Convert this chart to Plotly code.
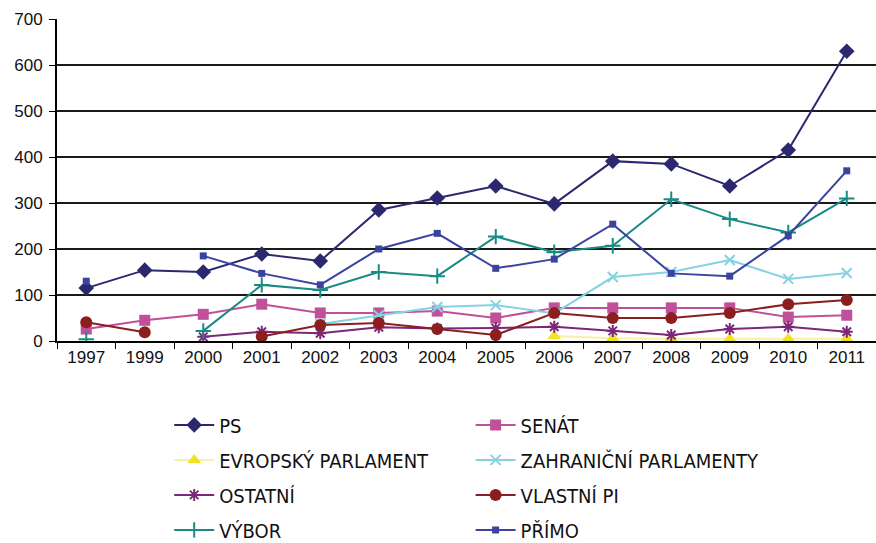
import plotly.graph_objects as go

years = ["1997", "1999", "2000", "2001", "2002", "2003", "2004", "2005",
         "2006", "2007", "2008", "2009", "2010", "2011"]

ps = [115, 154, 150, 189, 174, 285, 311, 337, 298, 391, 385, 337, 415, 630]
senat = [26, 45, 58, 80, 61, 61, 65, 50, 72, 72, 72, 72, 52, 56]
evropsky = [None, None, None, None, None, None, None, None, 11, 6, 5, 5, 5, 5]
zahranicni = [None, None, None, None, 37, 56, 74, 78, 60, 139, 150, 176, 135, 148]
ostatni = [None, None, 9, 20, 17, 30, 27, 28, 31, 22, 13, 26, 31, 20]
vlastni = [41, 19, None, 10, 35, 39, 26, 13, 61, 50, 50, 61, 80, 89]
vybor = [4, None, 22, 122, 111, 150, 141, 227, 193, 207, 308, 265, 236, 310]
primo = [130, None, 185, 147, 122, 200, 234, 158, 178, 254, 147, 141, 229, 370]

y_ticks = [0, 100, 200, 300, 400, 500, 600, 700]

series = [
    ("PS", ps, "#2B2870", "#2B2870", "diamond", 12, "legend"),
    ("SENÁT", senat, "#C0509A", "#C0509A", "square", 11, "legend2"),
    ("EVROPSKÝ PARLAMENT", evropsky, "#F8F0A8", "#F2E227", "triangle-up", 12, "legend"),
    ("ZAHRANIČNÍ PARLAMENTY", zahranicni, "#84D2E2", "#84D2E2", "x-thin-open", 10, "legend2"),
    ("OSTATNÍ", ostatni, "#7B2878", "#7B2878", "asterisk-open", 10, "legend"),
    ("VLASTNÍ PI", vlastni, "#8B1E1E", "#8B1E1E", "circle", 12, "legend2"),
    ("VÝBOR", vybor, "#1A8A84", "#1A8A84", "cross-thin-open", 11, "legend"),
    ("PŘÍMO", primo, "#3A44A0", "#3A44A0", "square", 7, "legend2"),
]

fig = go.Figure()
for i, (name, vals, lc, mc, sym, sz, lg) in enumerate(series):
    fig.add_trace(go.Scatter(
        x=years, y=vals, name=name, mode="lines+markers",
        line=dict(color=lc, width=2),
        marker=dict(symbol=sym, size=sz, color=mc,
                    line=dict(color=mc, width=2 if "open" in sym else 0)),
        connectgaps=False, legend=lg, legendgroup=name,
    ))

legend_font = dict(family="DejaVu Sans Condensed, Liberation Sans Narrow, Roboto, sans-serif",
                   size=20, color="#111111")
tick_font = dict(family="Arial, Liberation Sans, sans-serif", size=17, color="#111111")

fig.update_layout(
    width=876, height=543,
    margin=dict(l=57, r=0, t=19, b=202, autoexpand=False),
    paper_bgcolor="white", plot_bgcolor="white",
    font=dict(family="Arial, Liberation Sans, sans-serif", size=16, color="#111111"),
    xaxis=dict(type="category", categoryorder="array", categoryarray=years,
               showgrid=False, showline=True, linecolor="#000000", linewidth=2,
               ticks="outside", tickson="boundaries", ticklen=6, tickcolor="#000000",
               tickwidth=1, tickfont=tick_font, range=[-0.5, 13.5], automargin=False),
    yaxis=dict(range=[0, 700], tickvals=y_ticks, showgrid=True,
               gridcolor="#1a1a1a", gridwidth=1.8, showline=True,
               linecolor="#000000", linewidth=2, ticks="outside", ticklen=6,
               tickcolor="#000000", tickfont=tick_font, zeroline=False,
               ticklabelstandoff=3, automargin=False),
    legend=dict(x=0.137, y=-0.2, xanchor="left", yanchor="top",
                font=legend_font, traceorder="grouped", tracegroupgap=6,
                itemwidth=40, bgcolor="rgba(0,0,0,0)"),
    legend2=dict(x=0.505, y=-0.2, xanchor="left", yanchor="top",
                 font=legend_font, traceorder="grouped", tracegroupgap=6,
                 itemwidth=40, bgcolor="rgba(0,0,0,0)"),
    showlegend=True,
)

fig.write_html("out.html", config={"displayModeBar": False},
               post_script="document.body.style.margin='0';document.body.style.overflow='hidden';")
